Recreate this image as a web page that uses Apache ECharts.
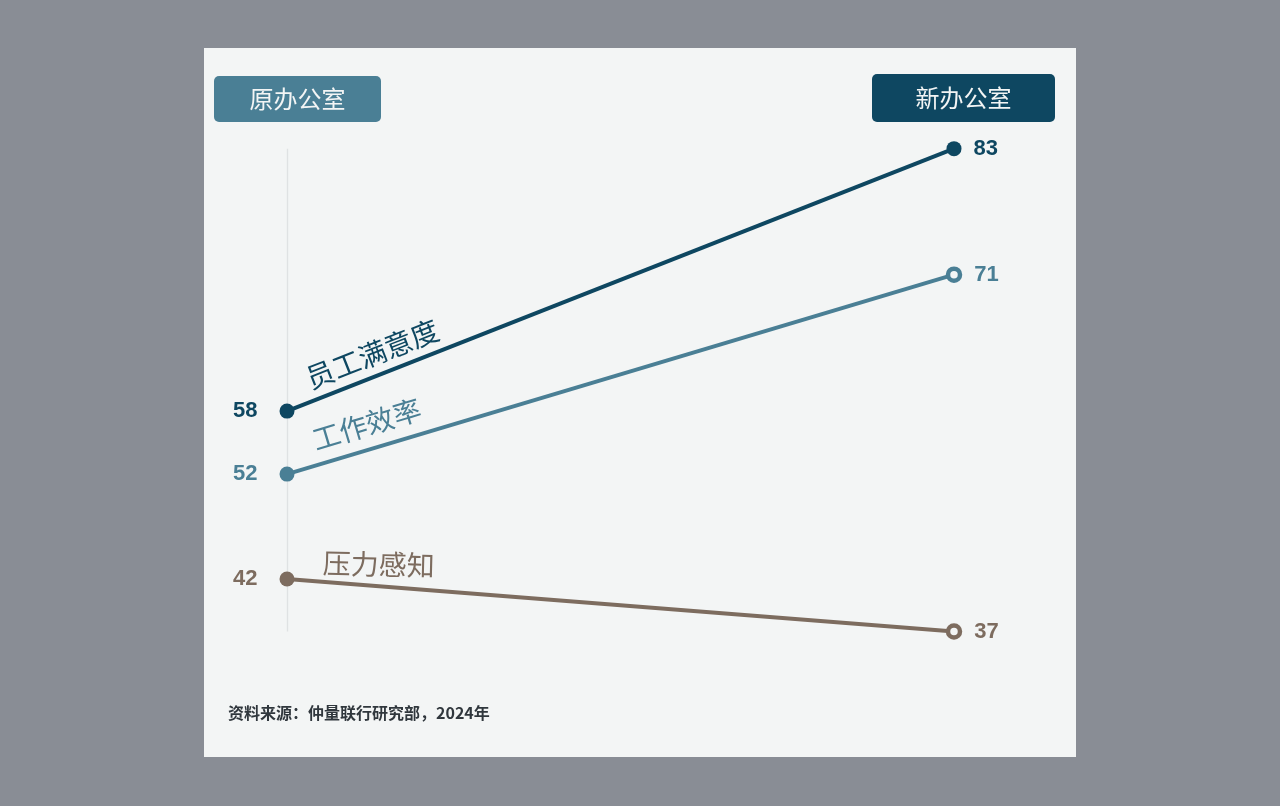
<!DOCTYPE html>
<html>
<head>
<meta charset="utf-8">
<script src="https://cdn.jsdelivr.net/npm/echarts@6/dist/echarts.min.js"></script>
<style>
html,body{margin:0;padding:0;background:#898d95;}
#c{width:1280px;height:806px;}
</style>
</head>
<body>
<div id="c"></div>
<script>
var periods = ['原办公室', '新办公室'];
var seriesNames = ['员工满意度', '工作效率', '压力感知'];
var satisfaction = [58, 83];
var efficiency = [52, 71];
var stress = [42, 37];
var sourceText = '资料来源：仲量联行研究部，2024年';

var colors = ['#0e4761', '#4a7f95', '#7d6c5f'];
var cardBg = '#f3f5f5';
var cjk = '"Noto Sans CJK SC", "Noto Sans", sans-serif';
var num = '"Liberation Sans", Arial, sans-serif';

var allVals = satisfaction.concat(efficiency, stress);
var vmax = Math.max.apply(null, allVals), vmin = Math.min.apply(null, allVals);

var chart = echarts.init(document.getElementById('c'));

function makeSeries(name, vals, idx) {
  var s = {
    name: name,
    type: 'line',
    data: vals.map(function (v, i) {
      var hollow = (i === 1 && idx > 0);
      return {
        value: v,
        symbolSize: hollow ? 12 : 15,
        itemStyle: hollow ? { color: cardBg, borderColor: colors[idx], borderWidth: 4.5 } : { color: colors[idx], borderWidth: 0 },
        label: {
          show: true,
          position: i === 0 ? 'left' : 'right',
          distance: i === 0 ? 22 : 12,
          formatter: '{c}',
          color: colors[idx],
          fontFamily: num,
          fontWeight: 'bold',
          fontSize: 22
        }
      };
    }),
    symbol: 'circle',
    lineStyle: { color: colors[idx], width: 4 },
    itemStyle: { color: colors[idx] },
    z: 5 - idx,
    silent: true,
    animation: false
  };
  if (idx === 2) {
    s.markLine = {
      silent: true,
      symbol: ['none', 'none'],
      label: { show: false },
      lineStyle: { color: '#dfe2e3', width: 1.3, type: 'solid' },
      z: 0,
      data: [[{ coord: [0, vmax] }, { coord: [0, vmin] }]]
    };
  }
  return s;
}

var option = {
  backgroundColor: '#898d95',
  animation: false,
  grid: { left: 287, right: 326, top: 75.2, height: 629.8 },
  xAxis: {
    type: 'category', data: periods, boundaryGap: false,
    axisLine: { show: false }, axisTick: { show: false }, axisLabel: { show: false }, splitLine: { show: false }
  },
  yAxis: {
    type: 'value', min: 30, max: 90,
    axisLine: { show: false }, axisTick: { show: false }, axisLabel: { show: false }, splitLine: { show: false }
  },
  series: [
    makeSeries(seriesNames[0], satisfaction, 0),
    makeSeries(seriesNames[1], efficiency, 1),
    makeSeries(seriesNames[2], stress, 2)
  ]
};
chart.setOption(option);

function px(i, v) { return chart.convertToPixel({ gridIndex: 0 }, [i, v]); }

function lineLabel(text, vals, idx, t, off, size, rotScale) {
  var a = px(0, vals[0]), b = px(1, vals[1]);
  var dx = b[0] - a[0], dy = b[1] - a[1];
  var ang = Math.atan2(-dy, dx) * rotScale;
  var len = Math.sqrt(dx * dx + dy * dy);
  var cx = a[0] + dx * t, cy = a[1] + dy * t;
  var nx = dy / len, ny = -dx / len;
  return {
    type: 'text', x: cx + nx * off, y: cy + ny * off, rotation: ang, z: 20,
    style: { text: text, fill: colors[idx], font: '400 ' + size + 'px ' + cjk, textAlign: 'center', textVerticalAlign: 'middle' }
  };
}

chart.setOption({
  graphic: [
    { type: 'rect', shape: { x: 204, y: 48, width: 872, height: 709 }, style: { fill: cardBg }, z: -10, silent: true },
    { type: 'rect', shape: { x: 214, y: 76, width: 167, height: 46, r: 5 }, style: { fill: '#4a7f95' }, z: 10 },
    { type: 'text', x: 297.5, y: 99, z: 11, style: { text: periods[0], fill: '#f3f5f5', font: '400 24px ' + cjk, textAlign: 'center', textVerticalAlign: 'middle' } },
    { type: 'rect', shape: { x: 872, y: 74, width: 183, height: 48, r: 5 }, style: { fill: '#0e4761' }, z: 10 },
    { type: 'text', x: 963.5, y: 98, z: 11, style: { text: periods[1], fill: '#f3f5f5', font: '400 24px ' + cjk, textAlign: 'center', textVerticalAlign: 'middle' } },
    lineLabel(seriesNames[0], satisfaction, 0, 0.14, 22, 28, 1),
    lineLabel(seriesNames[1], efficiency, 1, 0.13, 25, 28, 1),
    lineLabel(seriesNames[2], stress, 2, 0.135, 22, 28, 0.3),
    { type: 'text', x: 228, y: 713, z: 11, style: { text: sourceText, fill: '#30373d', font: '600 16px ' + cjk, textAlign: 'left', textVerticalAlign: 'middle' } }
  ]
});
</script>
</body>
</html>
